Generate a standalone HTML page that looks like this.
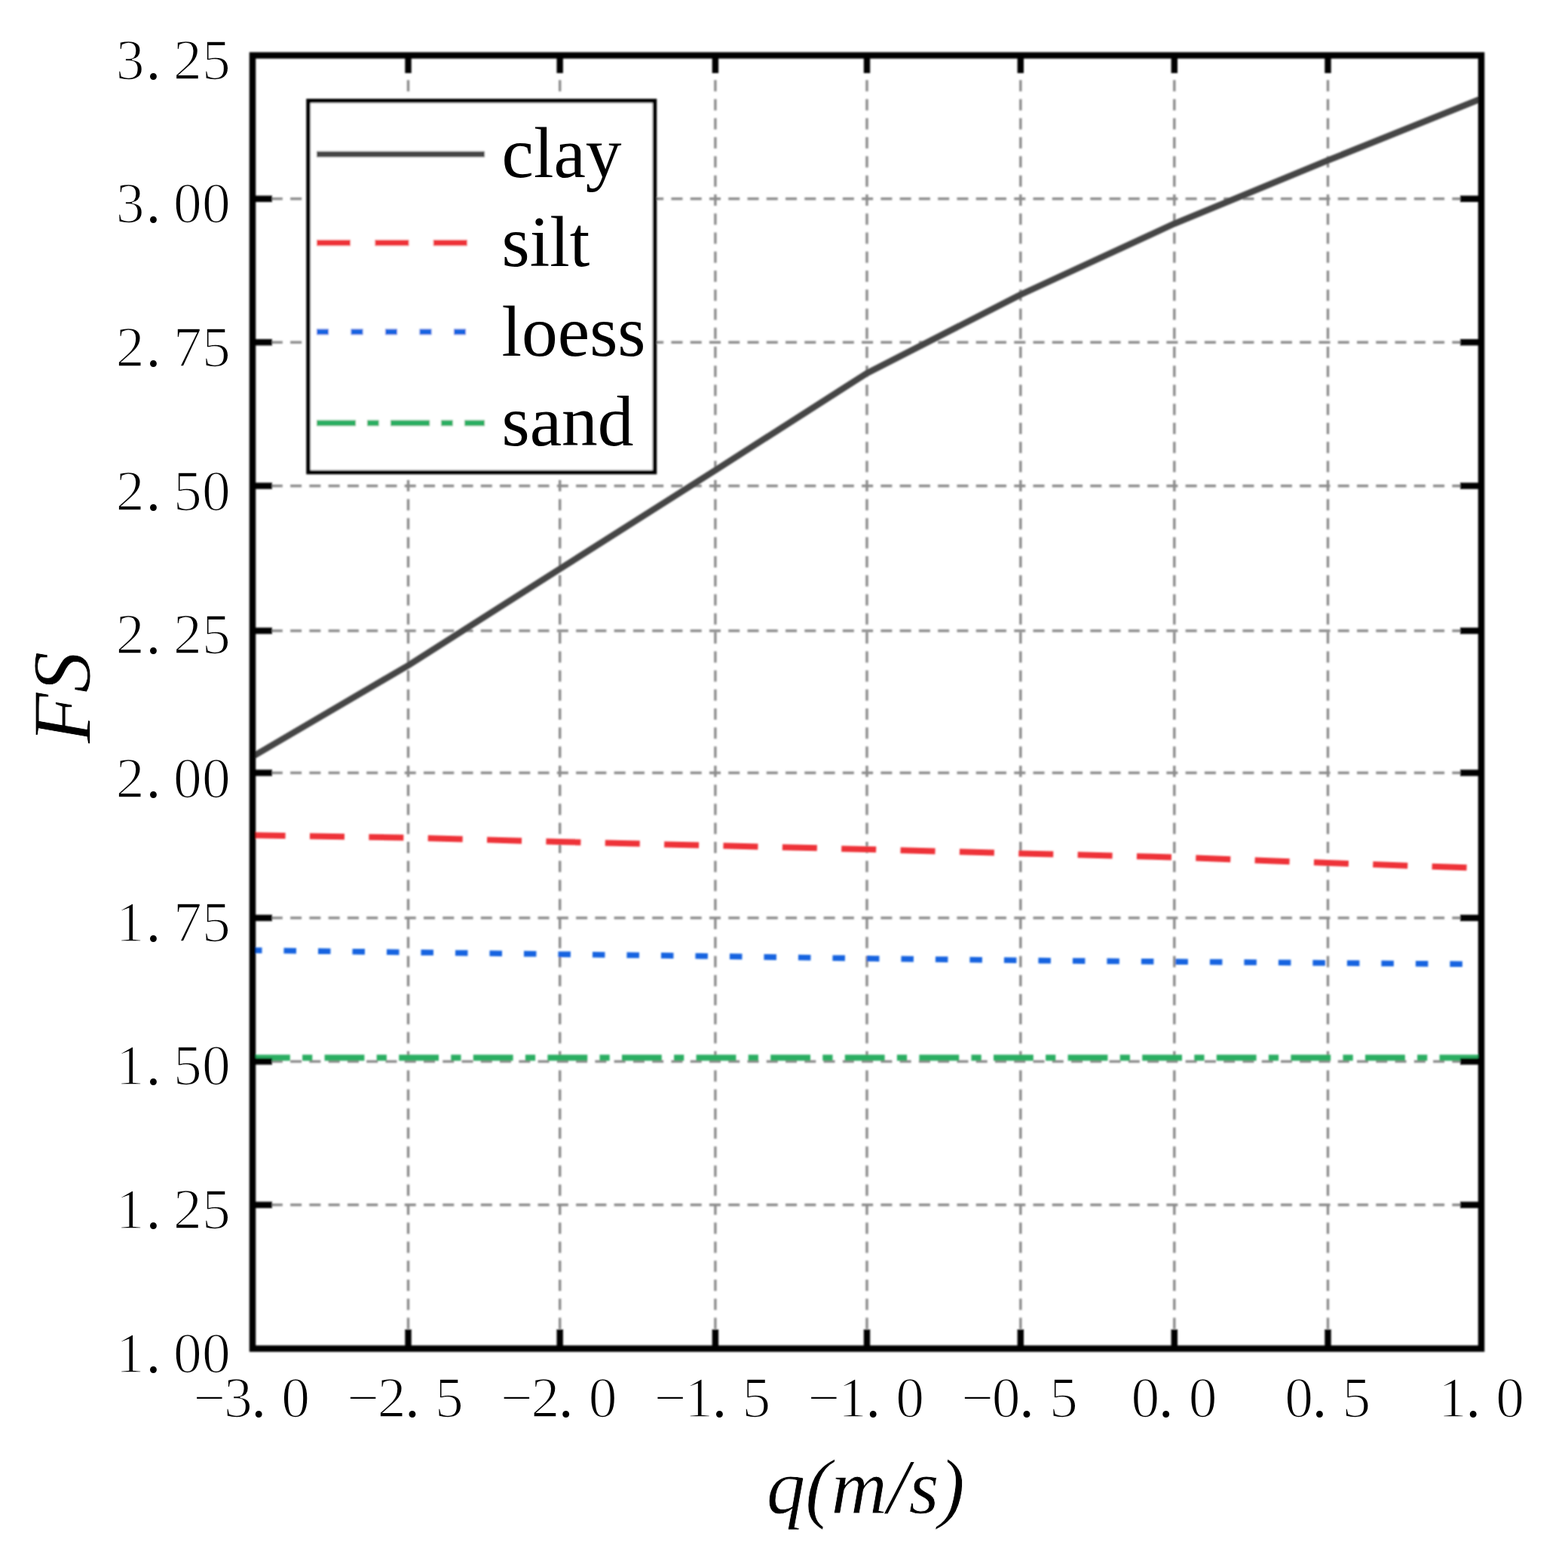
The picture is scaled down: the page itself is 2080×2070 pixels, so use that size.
<!DOCTYPE html><html><head><meta charset="utf-8"><title>FS vs q</title><style>html,body{margin:0;padding:0;background:#fff;}svg{display:block;}.lab{font-family:"Liberation Serif","Noto Serif CJK SC",serif;font-size:75.5px;fill:#000;stroke:#fff;stroke-width:1.6px;}.dot{stroke:none;}.leg{font-family:"Liberation Serif","Noto Serif CJK SC",serif;font-size:95.5px;fill:#000;}.ttl{font-family:"Liberation Serif","Noto Serif CJK SC",serif;font-style:italic;font-size:110px;fill:#000;stroke:#fff;stroke-width:0.8px;}</style></head><body>
<svg width="2080" height="2070" viewBox="0 0 2080 2070">
<defs><filter id="soft" x="0" y="0" width="2080" height="2070" filterUnits="userSpaceOnUse"><feGaussianBlur stdDeviation="1"/></filter></defs>
<rect width="2080" height="2070" fill="#fff"/>
<g filter="url(#soft)">
<g stroke="#8c8c8c" stroke-width="3.4" fill="none">
<line x1="541.5" y1="73.5" x2="541.5" y2="1789.5" stroke-dasharray="15 10.266" stroke-dashoffset="17.73"/>
<line x1="742.7" y1="73.5" x2="742.7" y2="1789.5" stroke-dasharray="15 10.266" stroke-dashoffset="17.73"/>
<line x1="948.9" y1="73.5" x2="948.9" y2="1789.5" stroke-dasharray="15 10.266" stroke-dashoffset="17.73"/>
<line x1="1150" y1="73.5" x2="1150" y2="1789.5" stroke-dasharray="15 10.266" stroke-dashoffset="17.73"/>
<line x1="1353.8" y1="73.5" x2="1353.8" y2="1789.5" stroke-dasharray="15 10.266" stroke-dashoffset="17.73"/>
<line x1="1557.8" y1="73.5" x2="1557.8" y2="1789.5" stroke-dasharray="15 10.266" stroke-dashoffset="17.73"/>
<line x1="1761.5" y1="73.5" x2="1761.5" y2="1789.5" stroke-dasharray="15 10.266" stroke-dashoffset="17.73"/>
<line x1="335.0" y1="263.8" x2="1965.0" y2="263.8" stroke-dasharray="15 10.266" stroke-dashoffset="0.4"/>
<line x1="335.0" y1="454.2" x2="1965.0" y2="454.2" stroke-dasharray="15 10.266" stroke-dashoffset="0.4"/>
<line x1="335.0" y1="644.7" x2="1965.0" y2="644.7" stroke-dasharray="15 10.266" stroke-dashoffset="0.4"/>
<line x1="335.0" y1="837" x2="1965.0" y2="837" stroke-dasharray="15 10.266" stroke-dashoffset="0.4"/>
<line x1="335.0" y1="1025.5" x2="1965.0" y2="1025.5" stroke-dasharray="15 10.266" stroke-dashoffset="0.4"/>
<line x1="335.0" y1="1218" x2="1965.0" y2="1218" stroke-dasharray="15 10.266" stroke-dashoffset="0.4"/>
<line x1="335.0" y1="1408.5" x2="1965.0" y2="1408.5" stroke-dasharray="15 10.266" stroke-dashoffset="0.4"/>
<line x1="335.0" y1="1598.8" x2="1965.0" y2="1598.8" stroke-dasharray="15 10.266" stroke-dashoffset="0.4"/>
</g>
<polyline points="335.0,1403.5 1965.0,1403.5" fill="none" stroke="#2bae62" stroke-width="7.8" stroke-dasharray="52.8 16.3 13.2 16.3" stroke-dashoffset="3"/>
<polyline points="335.0,1261.0 930.0,1268.6 1160.0,1272.0 1380.0,1274.6 1965.0,1279.5" fill="none" stroke="#1764e0" stroke-width="7.6" stroke-dasharray="16.5 29" stroke-dashoffset="4"/>
<polyline points="335.0,1108.3 541.0,1111.5 742.0,1117.0 948.0,1122.0 1150.0,1127.0 1354.0,1132.5 1557.0,1137.5 1761.0,1145.0 1965.0,1152.0" fill="none" stroke="#ee3237" stroke-width="8" stroke-dasharray="46 32.38" stroke-dashoffset="2.4"/>
<polyline points="335.0,1004.0 541.5,883.0 742.5,755.0 948.9,624.0 1150.0,495.2 1353.8,391.0 1557.8,296.8 1761.8,212.7 1965.0,130.8" fill="none" stroke="#454545" stroke-width="8.4" stroke-linejoin="round"/>
<rect x="335.0" y="73.5" width="1630.0" height="1716.0" fill="none" stroke="#000" stroke-width="8.5"/>
<g stroke="#000" stroke-width="8.4">
<line x1="335.0" y1="263.8" x2="361.0" y2="263.8"/>
<line x1="1965.0" y1="263.8" x2="1937.0" y2="263.8"/>
<line x1="335.0" y1="454.2" x2="361.0" y2="454.2"/>
<line x1="1965.0" y1="454.2" x2="1937.0" y2="454.2"/>
<line x1="335.0" y1="644.7" x2="361.0" y2="644.7"/>
<line x1="1965.0" y1="644.7" x2="1937.0" y2="644.7"/>
<line x1="335.0" y1="837" x2="361.0" y2="837"/>
<line x1="1965.0" y1="837" x2="1937.0" y2="837"/>
<line x1="335.0" y1="1025.5" x2="361.0" y2="1025.5"/>
<line x1="1965.0" y1="1025.5" x2="1937.0" y2="1025.5"/>
<line x1="335.0" y1="1218" x2="361.0" y2="1218"/>
<line x1="1965.0" y1="1218" x2="1937.0" y2="1218"/>
<line x1="335.0" y1="1408.5" x2="361.0" y2="1408.5"/>
<line x1="1965.0" y1="1408.5" x2="1937.0" y2="1408.5"/>
<line x1="335.0" y1="1598.8" x2="361.0" y2="1598.8"/>
<line x1="1965.0" y1="1598.8" x2="1937.0" y2="1598.8"/>
<line x1="541.5" y1="1789.5" x2="541.5" y2="1764.0"/>
<line x1="541.5" y1="73.5" x2="541.5" y2="97.0"/>
<line x1="742.7" y1="1789.5" x2="742.7" y2="1764.0"/>
<line x1="742.7" y1="73.5" x2="742.7" y2="97.0"/>
<line x1="948.9" y1="1789.5" x2="948.9" y2="1764.0"/>
<line x1="948.9" y1="73.5" x2="948.9" y2="97.0"/>
<line x1="1150" y1="1789.5" x2="1150" y2="1764.0"/>
<line x1="1150" y1="73.5" x2="1150" y2="97.0"/>
<line x1="1353.8" y1="1789.5" x2="1353.8" y2="1764.0"/>
<line x1="1353.8" y1="73.5" x2="1353.8" y2="97.0"/>
<line x1="1557.8" y1="1789.5" x2="1557.8" y2="1764.0"/>
<line x1="1557.8" y1="73.5" x2="1557.8" y2="97.0"/>
<line x1="1761.5" y1="1789.5" x2="1761.5" y2="1764.0"/>
<line x1="1761.5" y1="73.5" x2="1761.5" y2="97.0"/>
</g>
<rect x="409" y="133.8" width="459.5" height="492.8" fill="#fff" stroke="#000" stroke-width="5.5"/>
<line x1="420" y1="204.6" x2="643" y2="204.6" stroke="#454545" stroke-width="7.6"/>
<line x1="420" y1="322.3" x2="643" y2="322.3" stroke="#ee3237" stroke-width="8" stroke-dasharray="45 32.4"/>
<line x1="420" y1="440.4" x2="643" y2="440.4" stroke="#1764e0" stroke-width="7.6" stroke-dasharray="16 29.5"/>
<line x1="420" y1="561.3" x2="643" y2="561.3" stroke="#2bae62" stroke-width="7.8" stroke-dasharray="52 15 15.6 15.5"/>
</g><g>
<text class="leg" x="665.5" y="235.3">clay</text>
<text class="leg" x="665.5" y="353.0">silt</text>
<text class="leg" x="665.5" y="472.0">loess</text>
<text class="leg" x="665.5" y="591.0">sand</text>
<text class="lab" text-anchor="middle" x="172.65 203.40 248.85 286.95" y="104.7">3<tspan class="dot">.</tspan>25</text>
<text class="lab" text-anchor="middle" x="172.65 203.40 248.85 286.95" y="295.3667">3<tspan class="dot">.</tspan>00</text>
<text class="lab" text-anchor="middle" x="172.65 203.40 248.85 286.95" y="486.0334">2<tspan class="dot">.</tspan>75</text>
<text class="lab" text-anchor="middle" x="172.65 203.40 248.85 286.95" y="676.7001">2<tspan class="dot">.</tspan>50</text>
<text class="lab" text-anchor="middle" x="172.65 203.40 248.85 286.95" y="867.3668">2<tspan class="dot">.</tspan>25</text>
<text class="lab" text-anchor="middle" x="172.65 203.40 248.85 286.95" y="1058.0335">2<tspan class="dot">.</tspan>00</text>
<text class="lab" text-anchor="middle" x="172.65 203.40 248.85 286.95" y="1248.7002">1<tspan class="dot">.</tspan>75</text>
<text class="lab" text-anchor="middle" x="172.65 203.40 248.85 286.95" y="1439.3669">1<tspan class="dot">.</tspan>50</text>
<text class="lab" text-anchor="middle" x="172.65 203.40 248.85 286.95" y="1630.0336">1<tspan class="dot">.</tspan>25</text>
<text class="lab" text-anchor="middle" x="172.65 203.40 248.85 286.95" y="1820.7003">1<tspan class="dot">.</tspan>00</text>
<text class="lab" text-anchor="middle" x="277.85 315.95 343.30 392.15" y="1880">−3<tspan class="dot">.</tspan>0</text>
<text class="lab" text-anchor="middle" x="481.60 519.70 547.05 595.90" y="1880">−2<tspan class="dot">.</tspan>5</text>
<text class="lab" text-anchor="middle" x="685.35 723.45 750.80 799.65" y="1880">−2<tspan class="dot">.</tspan>0</text>
<text class="lab" text-anchor="middle" x="889.10 927.20 954.55 1003.40" y="1880">−1<tspan class="dot">.</tspan>5</text>
<text class="lab" text-anchor="middle" x="1092.85 1130.95 1158.30 1207.15" y="1880">−1<tspan class="dot">.</tspan>0</text>
<text class="lab" text-anchor="middle" x="1296.60 1334.70 1362.05 1410.90" y="1880">−0<tspan class="dot">.</tspan>5</text>
<text class="lab" text-anchor="middle" x="1519.40 1546.75 1595.60" y="1880">0<tspan class="dot">.</tspan>0</text>
<text class="lab" text-anchor="middle" x="1723.15 1750.50 1799.35" y="1880">0<tspan class="dot">.</tspan>5</text>
<text class="lab" text-anchor="middle" x="1926.90 1954.25 2003.10" y="1880">1<tspan class="dot">.</tspan>0</text>
<text class="ttl" transform="translate(119.3,925.5) rotate(-90)" text-anchor="middle" x="0" y="0">FS</text>
<text class="ttl" text-anchor="middle" x="1148.3" y="2007.8" style="font-size:103px">q(m/s)</text>
</g></svg></body></html>
